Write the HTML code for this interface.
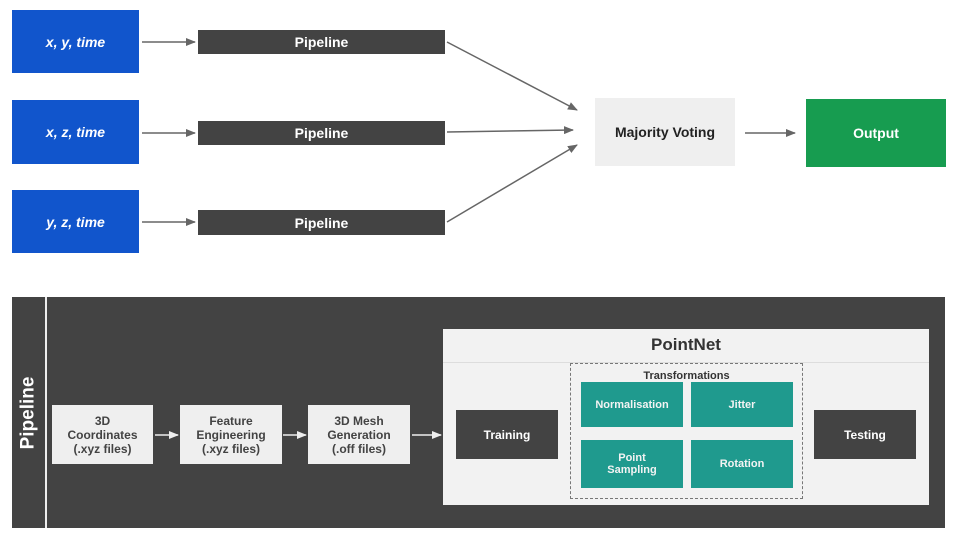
<!DOCTYPE html>
<html><head><meta charset="utf-8"><style>
body{margin:0;width:960px;height:540px;background:#fff;position:relative;overflow:hidden;font-family:"Liberation Sans",sans-serif;font-weight:bold}
.b{position:absolute;display:flex;align-items:center;justify-content:center;text-align:center}
.blue{background:#1155cc;color:#fff;font-style:italic;font-size:14px}
.dk{background:#434343;color:#fff;font-size:14px}
.lt{background:#efefef;color:#434343;font-size:12px;line-height:14px}
.tl{background:#1f9a8e;color:#f3f3f3;font-size:11px;line-height:12px}
</style></head><body>
<div class="b blue" style="left:12px;top:10px;width:127px;height:63px">x, y, time</div>
<div class="b blue" style="left:12px;top:100px;width:127px;height:64px">x, z, time</div>
<div class="b blue" style="left:12px;top:190px;width:127px;height:63px">y, z, time</div>
<div class="b dk" style="left:198px;top:30px;width:247px;height:24px">Pipeline</div>
<div class="b dk" style="left:198px;top:121px;width:247px;height:24px">Pipeline</div>
<div class="b dk" style="left:198px;top:210px;width:247px;height:25px">Pipeline</div>
<div class="b" style="left:595px;top:98px;width:140px;height:68px;background:#efefef;color:#222;font-size:14px">Majority Voting</div>
<div class="b" style="left:806px;top:99px;width:140px;height:68px;background:#179c50;color:#fff;font-size:14px">Output</div>

<div style="position:absolute;left:12px;top:297px;width:933px;height:231px;background:#434343"></div>
<div style="position:absolute;left:45px;top:297px;width:2px;height:231px;background:#eee"></div>
<div class="b" style="left:12px;top:297px;width:33px;height:231px;color:#fff;font-size:19px"><span style="transform:rotate(-90deg);white-space:nowrap;display:block">Pipeline</span></div>
<div class="b lt" style="left:52px;top:405px;width:101px;height:59px">3D<br>Coordinates<br>(.xyz files)</div>
<div class="b lt" style="left:180px;top:405px;width:102px;height:59px">Feature<br>Engineering<br>(.xyz files)</div>
<div class="b lt" style="left:308px;top:405px;width:102px;height:59px">3D Mesh<br>Generation<br>(.off files)</div>
<div style="position:absolute;left:443px;top:329px;width:486px;height:176px;background:#f2f2f2"></div>
<div style="position:absolute;left:443px;top:362px;width:486px;height:1px;background:#ddd"></div>
<div class="b" style="left:443px;top:332px;width:486px;height:26px;color:#333;font-size:17px">PointNet</div>
<div class="b dk" style="left:456px;top:410px;width:102px;height:49px;font-size:12px">Training</div>
<div class="b dk" style="left:814px;top:410px;width:102px;height:49px;font-size:12px">Testing</div>
<div style="position:absolute;left:570px;top:363px;width:231px;height:134px;border:1px dashed #777"></div>
<div class="b" style="left:570px;top:369px;width:233px;height:14px;font-size:11px;color:#333">Transformations</div>
<div class="b tl" style="left:581px;top:382px;width:102px;height:45px">Normalisation</div>
<div class="b tl" style="left:691px;top:382px;width:102px;height:45px">Jitter</div>
<div class="b tl" style="left:581px;top:440px;width:102px;height:48px">Point<br>Sampling</div>
<div class="b tl" style="left:691px;top:440px;width:102px;height:48px">Rotation</div>

<svg width="960" height="540" style="position:absolute;left:0;top:0">
<defs>
<marker id="g" markerWidth="10" markerHeight="8" refX="9" refY="4" orient="auto" markerUnits="userSpaceOnUse"><path d="M0,0L10,4L0,8z" fill="#666"/></marker>
<marker id="w" markerWidth="10" markerHeight="8" refX="9" refY="4" orient="auto" markerUnits="userSpaceOnUse"><path d="M0,0L10,4L0,8z" fill="#eee"/></marker>
</defs>
<g stroke="#666" stroke-width="1.5" marker-end="url(#g)">
<line x1="142" y1="42" x2="195" y2="42"/>
<line x1="142" y1="133" x2="195" y2="133"/>
<line x1="142" y1="222" x2="195" y2="222"/>
<line x1="447" y1="42" x2="577" y2="110"/>
<line x1="447" y1="132" x2="573" y2="130"/>
<line x1="447" y1="222" x2="577" y2="145"/>
<line x1="745" y1="133" x2="795" y2="133"/>
</g>
<g stroke="#eee" stroke-width="1.5" marker-end="url(#w)">
<line x1="155" y1="435" x2="178" y2="435"/>
<line x1="283" y1="435" x2="306" y2="435"/>
<line x1="412" y1="435" x2="441" y2="435"/>
</g>
</svg>
</body></html>
